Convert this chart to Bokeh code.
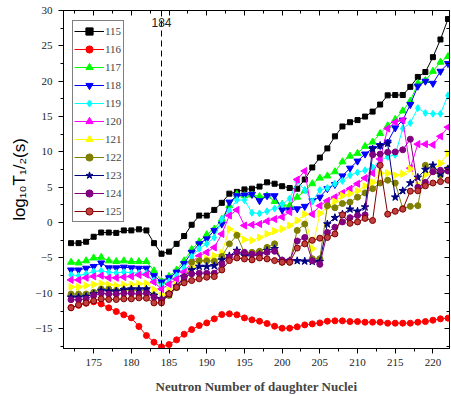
import math
from bokeh.plotting import figure
from bokeh.models import (Range1d, LinearAxis, Span, Label, Legend, LegendItem,
                          SingleIntervalTicker, CustomJSTickFormatter)
from bokeh.embed import file_html
from bokeh.resources import INLINE

neutrons = list(range(172, 223))

z115 = [-2.9, -2.9, -2.7, -2.0, -1.4, -1.4, -1.45, -1.1, -1.1, -0.95, -1.1, -2.9, -4.4,
        -4.1, -3.0, -1.9, -0.3, 1.0, 1.0, 1.8, 2.8, 4.1, 4.35, 4.7, 4.8, 5.1,
        5.7, 5.5, 5.15, 4.9, 4.8, 6.1, 7.8, 9.2, 10.5, 12.2, 13.6, 14.2, 14.5,
        15.0, 15.7, 16.7, 18.0, 18.05, 18.05, 19.2, 20.6, 21.3, 23.4, 25.9, 28.8]
z116 = [-12.0, -11.7, -11.4, -11.2, -11.5, -12.05, -12.57, -13.04, -13.47, -14.69, -15.97, -16.91, -17.57,
        -17.24, -16.58, -15.78, -15.12, -14.55, -14.18, -13.61, -13.0, -12.9, -13.04, -13.47, -13.75, -13.94,
        -14.27, -14.65, -14.93, -14.93, -14.74, -14.46, -14.32, -14.18, -13.94, -13.89, -13.89, -13.99, -13.99,
        -14.08, -14.08, -14.08, -14.22, -14.22, -14.22, -14.22, -14.08, -13.99, -13.8, -13.61, -13.51]
z117 = [-5.6, -5.7, -5.4, -5.0, -4.9, -5.4, -5.5, -5.4, -5.5, -5.5, -5.5, -6.8, -8.3,
        -7.6, -6.7, -5.4, -3.8, -2.7, -1.7, -0.9, 0.5, 2.4, 4.0, 3.8, 3.9, 3.7,
        3.8, 3.0, 2.6, 2.4, 3.6, 4.5, 5.5, 6.3, 6.6, 7.2, 8.6, 9.4, 9.8,
        10.8, 11.4, 12.6, 13.7, 14.6, 15.8, 17.2, 19.7, 20.1, 21.4, 22.7, 23.5]
z118 = [-6.7, -6.7, -6.45, -6.2, -5.7, -6.4, -6.4, -6.3, -6.4, -6.45, -6.45, -7.5, -8.4,
        -7.8, -7.0, -5.8, -4.2, -3.0, -2.3, -1.1, -0.2, 2.9, 3.8, 3.9, 4.0, 3.1,
        3.8, 3.8, 1.8, 1.8, 1.95, 2.3, 3.1, 3.6, 4.8, 5.4, 6.6, 7.7, 8.7,
        9.7, 10.5, 10.9, 11.4, 13.4, 14.5, 16.7, 19.3, 20.0, 19.7, 21.4, 22.5]
z119 = [-7.4, -7.5, -7.25, -6.9, -6.8, -7.0, -7.1, -7.0, -7.1, -7.15, -7.15, -8.2, -8.9,
        -8.3, -7.5, -6.4, -4.8, -3.7, -3.0, -2.1, 0.5, 1.7, 3.2, 3.2, 1.4, 1.3,
        1.6, 2.0, 2.6, 3.4, 5.8, 4.6, 3.0, 4.6, 4.9, 5.5, 5.9, 6.7, 7.1,
        7.4, 7.8, 8.8, 9.3, 9.6, 13.3, 14.1, 16.2, 15.5, 15.4, 15.4, 18.0]
z120 = [-8.1, -8.1, -7.8, -7.6, -7.5, -7.8, -7.8, -7.7, -7.6, -7.4, -7.35, -8.4, -9.4,
        -8.7, -8.0, -7.0, -5.6, -4.7, -4.2, -3.5, -1.6, 1.0, 1.8, -0.4, -0.3, -0.2,
        0.2, 0.5, 0.8, 1.5, 6.1, 7.3, 1.2, 2.4, 3.1, 3.6, 4.2, 4.8, 5.5,
        6.3, 7.0, 9.0, 13.3, 14.2, 14.5, 7.7, 11.1, 11.1, 11.0, 12.2, 13.5]
z121 = [-9.1, -9.1, -8.9, -8.75, -8.6, -8.8, -8.9, -8.8, -8.75, -8.65, -8.6, -9.5, -10.3,
        -9.6, -8.8, -7.8, -6.3, -5.4, -5.1, -4.7, -4.3, -0.9, -1.6, -2.4, -2.5, -2.1,
        -1.6, -1.2, -0.9, -0.4, 0.3, 1.2, -3.7, 1.3, 2.2, 3.0, 3.8, 4.1, 4.5,
        5.2, 5.7, 7.0, 7.0, 6.7, 6.9, 7.6, 5.3, 6.8, 7.5, 8.4, 9.8]
z122 = [-10.1, -10.1, -10.1, -9.85, -9.4, -9.4, -9.6, -9.5, -9.5, -9.6, -9.5, -10.3, -11.0,
        -10.3, -9.2, -8.2, -5.6, -5.4, -5.4, -5.45, -4.8, -3.0, -1.8, -4.3, -4.2, -4.05,
        -3.5, -3.0, -5.6, -5.6, -1.1, -0.2, -5.1, -5.1, 2.4, 2.1, 2.7, 2.9, 3.6,
        4.2, 4.8, 5.6, 6.0, 5.6, 2.0, 2.3, 2.4, 8.1, 7.2, 6.7, 7.6]
z123 = [-10.55, -10.55, -10.45, -10.1, -9.6, -9.7, -9.7, -9.5, -9.4, -9.4, -9.4, -10.3, -10.8,
        -10.1, -9.0, -7.7, -6.7, -6.2, -6.2, -6.1, -5.3, -4.7, -3.95, -4.7, -4.7, -4.5,
        -3.95, -3.7, -5.4, -5.4, -5.4, -5.45, -5.5, -5.5, -0.2, 0.7, 1.2, 1.9, 1.6,
        2.2, 10.4, 10.9, 11.2, 3.6, 4.5, 5.6, 6.4, 7.5, 8.1, 6.9, 7.6]
z124 = [-10.9, -10.9, -10.8, -10.3, -10.0, -10.1, -10.1, -10.0, -10.0, -10.1, -10.0, -10.55, -10.9,
        -10.1, -9.1, -7.7, -7.25, -7.15, -7.15, -7.15, -5.85, -4.9, -4.2, -4.2, -4.45, -4.5,
        -4.2, -4.05, -5.3, -5.4, -2.6, -2.1, -5.4, -5.9, -1.4, -0.65, 0.1, 0.7, 1.0,
        1.1, 9.6, 9.7, 9.95, 10.0, 10.3, 11.8, 5.0, 5.7, 7.2, 7.4, 7.3]
z125 = [-12.05, -11.63, -11.35, -11.06, -10.78, -10.87, -10.87, -10.78, -10.78, -10.64, -10.69, -11.35, -11.35,
        -10.07, -9.13, -8.52, -8.19, -7.95, -7.72, -7.63, -6.69, -5.37, -4.99, -5.13, -5.27, -5.0,
        -5.13, -5.37, -5.6, -5.6, -3.6, -3.0, -2.5, -2.2, -2.1, -1.6, 1.1, -0.1, 0.1,
        0.6, 0.3, 8.1, 1.2, 1.6, 1.9, 4.45, 4.5, 5.2, 5.6, 5.8, 6.0]

series_names = ["115", "116", "117", "118", "119", "120", "121", "122", "123", "124", "125"]
series_values = [z115, z116, z117, z118, z119, z120, z121, z122, z123, z124, z125]
colors = ["#000000", "#ff0000", "#00ff00", "#0000ff", "#00ffff", "#ff00ff",
          "#ffff00", "#808000", "#000080", "#800080", "#800000"]
markers = ["square", "circle", "triangle", "inverted_triangle", "diamond", "triangle",
           "triangle", "circle", "star", "circle", "circle"]
angles = [0, 0, 0, 0, 0, math.pi / 2, -math.pi / 2, 0, 0, 0, 0]
sizes = [5, 6, 7, 7, 7, 7, 7, 6, 8, 6, 6]
fills = ["#000000", "#ff0000", "#00ff00", "#0000ff", "#00ffff", "#ff00ff",
         "#ffff00", "#808000", "#000080", "#800080", "#c04040"]

p = figure(width=451, height=396, output_backend="svg", toolbar_location=None,
           x_range=Range1d(171, 222.2), y_range=Range1d(-17.8, 30),
           min_border_left=63, min_border_top=10, min_border_right=2, min_border_bottom=48)
p.xgrid.visible = False
p.ygrid.visible = False
p.outline_line_color = "black"
p.outline_line_width = 1
p.background_fill_color = "white"

items = []
for name, vals, col, mk, ang, sz, fc in zip(series_names, series_values, colors, markers, angles, sizes, fills):
    lr = p.line(neutrons, vals, line_color=col, line_width=1)
    sr = p.scatter(neutrons, vals, marker=mk, angle=ang, size=sz, fill_color=fc, line_color=col, line_width=1)
    items.append(LegendItem(label=name, renderers=[lr, sr]))

legend = Legend(items=items, location=(9, 126), border_line_color="black", border_line_width=1,
                background_fill_color="white", background_fill_alpha=1.0,
                label_text_font="Liberation Serif", label_text_font_size="11px",
                glyph_width=30, glyph_height=18, label_height=18, label_width=10, spacing=0,
                padding=1, margin=0, label_standoff=1)
p.add_layout(legend)

p.xaxis.ticker = SingleIntervalTicker(interval=5, num_minor_ticks=2)
p.yaxis.ticker = SingleIntervalTicker(interval=5, num_minor_ticks=2)
for ax in (p.xaxis[0], p.yaxis[0]):
    ax.major_label_text_font = "Liberation Serif"
    ax.major_label_text_font_size = "11px"
    ax.major_label_text_color = "#222222"
    ax.axis_line_color = "black"
    ax.major_tick_line_color = "black"
    ax.minor_tick_line_color = "black"
    ax.major_tick_out = 5
    ax.major_tick_in = 0
    ax.minor_tick_out = 3
    ax.minor_tick_in = 0
p.xaxis.major_label_standoff = 5
p.yaxis.major_label_standoff = 6

p.xaxis.axis_label = "Neutron Number of daughter Nuclei"
p.xaxis.axis_label_text_font = "Liberation Serif"
p.xaxis.axis_label_text_font_style = "bold"
p.xaxis.axis_label_text_font_size = "13px"
p.xaxis.axis_label_standoff = 10

p.yaxis.axis_label = "log\u2081\u2080T\u2081/\u2082(s)"
p.yaxis.axis_label_text_font = "Liberation Sans"
p.yaxis.axis_label_text_font_style = "normal"
p.yaxis.axis_label_text_font_size = "17px"
p.yaxis.axis_label_text_color = "black"
p.yaxis.axis_label_standoff = 3

blank = CustomJSTickFormatter(code="return ''")
top_ax = LinearAxis(ticker=SingleIntervalTicker(interval=5, num_minor_ticks=2), formatter=blank,
                    major_label_standoff=0, major_tick_in=5, major_tick_out=0,
                    minor_tick_in=3, minor_tick_out=0, axis_line_color="black")
p.add_layout(top_ax, "above")
right_ax = LinearAxis(ticker=SingleIntervalTicker(interval=5, num_minor_ticks=2), formatter=blank,
                      major_label_standoff=0, major_tick_in=5, major_tick_out=0,
                      minor_tick_in=3, minor_tick_out=0, axis_line_color="black")
p.add_layout(right_ax, "right")

p.add_layout(Span(location=184, dimension="height", line_color="black", line_width=1, line_dash="6 4"))
p.add_layout(Label(x=184, y=29.0, text="184", text_align="center", text_baseline="top",
                   text_font="Liberation Sans", text_font_size="12px", text_color="#222222"))

open("out.html", "w").write(file_html(p, INLINE))
